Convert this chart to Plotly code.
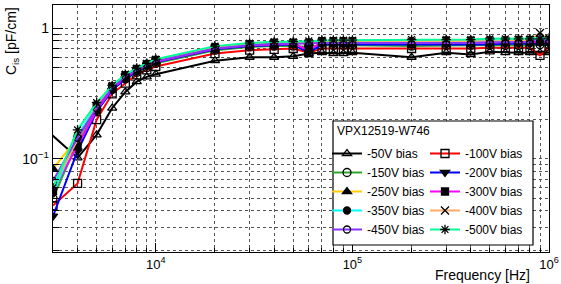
import plotly.graph_objects as go

freqs = [2000, 3000, 4000, 5000, 6000, 7000, 8000, 9000,
         10000, 20000, 30000, 40000, 50000, 60000, 70000, 80000, 90000,
         100000, 200000, 300000, 400000, 500000, 600000, 700000, 800000, 900000,
         1000000]

bias_labels = ["-50V bias", "-100V bias", "-150V bias", "-200V bias", "-250V bias",
               "-300V bias", "-350V bias", "-400V bias", "-450V bias", "-500V bias"]

c_50 = [0.26, None, 0.102, 0.153, 0.245, 0.326, 0.39, 0.425, 0.445, 0.565, 0.60, 0.60, 0.61, 0.64,
        0.65, 0.64, 0.64, 0.65, 0.60, 0.65, 0.63, 0.66, 0.65, 0.65, 0.65, 0.65, 0.65]
c_100 = [None, 0.044, 0.065, 0.20, 0.315, 0.38, 0.44, 0.48, 0.51, 0.64, 0.68, 0.69, 0.70, 0.65,
         0.70, 0.70, 0.70, 0.70, 0.70, 0.70, 0.70, 0.71, 0.71, 0.71, 0.71, 0.62, 0.72]
c_150 = [None, 0.050, 0.135, 0.24, 0.34, 0.41, 0.46, 0.50, 0.54, 0.68, 0.72, 0.73, 0.73, 0.72,
         0.74, 0.74, 0.74, 0.74, 0.73, 0.74, 0.74, 0.74, 0.74, 0.74, 0.74, 0.75, 0.75]
c_200 = [None, 0.0365, 0.115, 0.23, 0.335, 0.41, 0.465, 0.51, 0.55, 0.69, 0.73, 0.74, 0.75, 0.65,
         0.75, 0.75, 0.75, 0.75, 0.745, 0.75, 0.75, 0.75, 0.76, 0.76, 0.76, 0.77, 0.76]
c_250 = [None, 0.084, 0.145, 0.25, 0.35, 0.43, 0.48, 0.52, 0.56, 0.71, 0.75, 0.76, 0.77, 0.77,
         0.78, 0.78, 0.78, 0.78, 0.77, 0.78, 0.79, 0.79, 0.79, 0.79, 0.79, 0.80, 0.80]
c_300 = [None, 0.057, 0.125, 0.235, 0.345, 0.42, 0.475, 0.52, 0.555, 0.70, 0.74, 0.75, 0.76, 0.68,
         0.78, 0.77, 0.77, 0.77, 0.76, 0.77, 0.77, 0.78, 0.78, 0.78, 0.78, 0.79, 0.79]
c_350 = [None, 0.055, 0.15, 0.26, 0.36, 0.44, 0.49, 0.535, 0.575, 0.72, 0.76, 0.78, 0.78, 0.78,
         0.80, 0.80, 0.80, 0.80, 0.80, 0.81, 0.81, 0.81, 0.81, 0.82, 0.82, 0.82, 0.82]
c_400 = [None, 0.062, 0.14, 0.255, 0.355, 0.435, 0.485, 0.53, 0.57, 0.71, 0.75, 0.77, 0.77, 0.77,
         0.79, 0.79, 0.79, 0.79, 0.79, 0.80, 0.80, 0.80, 0.80, 0.81, 0.81, 0.92, 0.81]
c_450 = [None, 0.068, 0.145, 0.245, 0.35, 0.43, 0.48, 0.525, 0.56, 0.70, 0.74, 0.76, 0.76, 0.77,
         0.77, 0.77, 0.77, 0.77, 0.76, 0.77, 0.77, 0.78, 0.78, 0.78, 0.78, 0.86, 0.78]
c_500 = [None, 0.060, 0.167, 0.27, 0.365, 0.445, 0.495, 0.54, 0.58, 0.73, 0.77, 0.79, 0.79, 0.80,
         0.81, 0.81, 0.81, 0.81, 0.82, 0.82, 0.82, 0.83, 0.83, 0.83, 0.83, 0.83, 0.84]

series = [c_50, c_100, c_150, c_200, c_250, c_300, c_350, c_400, c_450, c_500]

x_major = [1e4, 1e5, 1e6]
x_major_text = ["10<sup>4</sup>", "10<sup>5</sup>", "10<sup>6</sup>"]
y_major = [0.1, 1]
y_major_text = ["10<sup>\u22121</sup>", "1"]

colors = ["#000000", "#ff0000", "#2fa52f", "#0000ff", "#ffcc00",
          "#ff00ff", "#00ffff", "#ffaa66", "#8833ff", "#00ff99"]
symbols = ["triangle-up-open", "square-open", "circle-open", "triangle-down", "triangle-up",
           "square", "circle", "x-thin-open", "circle-open", "asterisk-open"]
sizes = [8, 8, 8, 8, 8, 7, 7, 8, 7, 8]

FONT = "Liberation Sans, Arial, Helvetica, sans-serif"

# plot-area geometry in pixels
W, H = 561, 284
L, R, T, B = 53, 12, 5, 32
PW, PH = W - L - R, H - T - B


def px(xp):
    return (xp - L) / PW


def py(yp):
    return (H - B - yp) / PH


fig = go.Figure()
for i, (vals, name, col, sym, sz) in enumerate(zip(series, bias_labels, colors, symbols, sizes)):
    fig.add_trace(go.Scatter(
        x=freqs, y=vals, name=name, mode="lines+markers", connectgaps=True,
        line=dict(color=col, width=2),
        marker=dict(symbol=sym, size=sz, color="black",
                    line=dict(color="black", width=1.3)),
        legend="legend" if i % 2 == 0 else "legend2",
    ))

x_minor = [m * 10 ** e for e in (3, 4, 5) for m in range(2, 10) if m * 10 ** e >= 3000]
y_minor = [m * 10.0 ** e for e in (-2, -1) for m in range(2, 10)]

grid_col = "#555555"
fig.update_xaxes(
    type="log", range=[3.4771, 6.0],
    tickmode="array", tickvals=x_major, ticktext=x_major_text,
    ticks="inside", ticklen=9, tickcolor="black",
    showgrid=True, gridcolor=grid_col, griddash="dot", gridwidth=1,
    showline=True, linecolor="black", linewidth=1.3, mirror=True,
    tickfont=dict(family=FONT, size=13, color="black"),
    minor=dict(tickmode="array", tickvals=x_minor, ticks="inside", ticklen=4,
               tickcolor="black", showgrid=True, gridcolor=grid_col,
               griddash="dot", gridwidth=1),
    zeroline=False,
)
fig.update_yaxes(
    type="log", range=[-1.712, 0.178],
    tickmode="array", tickvals=y_major, ticktext=y_major_text,
    ticks="inside", ticklen=10, tickcolor="black",
    showgrid=True, gridcolor=grid_col, griddash="dot", gridwidth=1,
    showline=True, linecolor="black", linewidth=1.3, mirror=True,
    tickfont=dict(family=FONT, size=14, color="black"),
    minor=dict(tickmode="array", tickvals=y_minor, ticks="inside", ticklen=6,
               tickcolor="black", showgrid=True, gridcolor=grid_col,
               griddash="dot", gridwidth=1),
    zeroline=False,
)

leg_common = dict(
    orientation="v", xanchor="left", yanchor="top",
    bgcolor="rgba(0,0,0,0)", borderwidth=0,
    font=dict(family=FONT, size=12, color="black"),
    itemwidth=30, tracegroupgap=0,
)

fig.update_layout(
    width=W, height=H,
    margin=dict(l=L, r=R, t=T, b=B, autoexpand=False),
    paper_bgcolor="white", plot_bgcolor="white",
    font=dict(family=FONT, color="black"),
    showlegend=True,
    legend=dict(x=px(327), y=py(139), **leg_common),
    legend2=dict(x=px(425), y=py(139), **leg_common),
    shapes=[
        dict(type="rect", xref="paper", yref="paper",
             x0=px(333), x1=px(533), y0=py(245), y1=py(121),
             line=dict(color="black", width=1.2), fillcolor="white", layer="above"),
    ],
    annotations=[
        dict(text="VPX12519-W746", xref="paper", yref="paper", x=px(335), y=py(131),
             xanchor="left", yanchor="middle", showarrow=False,
             font=dict(family=FONT, size=12, color="black")),
        dict(text="Frequency [Hz]", xref="paper", yref="paper", x=1, y=0,
             xanchor="right", yanchor="top", xshift=-17, yshift=-13, showarrow=False,
             font=dict(family=FONT, size=14, color="black")),
        dict(text="C<sub>is</sub> [pF/cm]", xref="paper", yref="paper", x=0, y=1,
             xanchor="center", yanchor="top", xshift=-41, showarrow=False, textangle=-90,
             font=dict(family=FONT, size=14, color="black")),
    ],
)

fig.write_html(
    "out.html",
    config={"displayModeBar": False},
    post_script="document.body.style.margin='0';document.body.style.overflow='hidden';",
)
